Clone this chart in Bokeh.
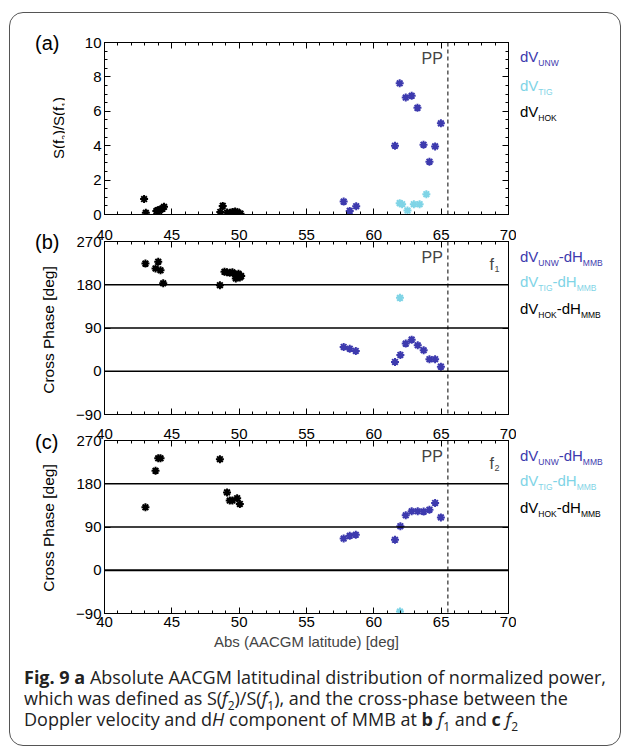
from bokeh.plotting import figure
from bokeh.models import Span, Label, LinearAxis, Range1d, Div, FixedTicker
from bokeh.layouts import column, row
from bokeh.embed import file_html
from bokeh.resources import INLINE

# ---------------- data ----------------
# panel (a): normalized power S(f2)/S(f1)
hok_a_lat = [42.94, 43.07, 43.85, 43.95, 44.05, 44.15, 44.3, 44.42, 48.6, 48.78, 49.1, 49.3, 49.5, 49.7, 49.9, 50.1]
hok_a_val = [0.9, 0.1, 0.2, 0.25, 0.2, 0.3, 0.33, 0.45, 0.15, 0.5, 0.12, 0.1, 0.15, 0.18, 0.12, 0.05]
unw_a_lat = [57.76, 58.21, 58.69, 61.57, 61.92, 62.37, 62.81, 63.24, 63.69, 64.13, 64.55, 64.98]
unw_a_val = [0.75, 0.21, 0.48, 4.0, 7.63, 6.8, 6.9, 6.2, 4.06, 3.07, 3.96, 5.3]
tig_a_lat = [61.92, 62.1, 62.5, 62.97, 63.4, 63.9]
tig_a_val = [0.66, 0.6, 0.23, 0.6, 0.6, 1.18]

# panel (b): cross phase at f1 [deg]
hok_b_lat = [43.04, 43.79, 43.99, 44.16, 44.36, 48.57, 48.91, 49.1, 49.3, 49.5, 49.7, 49.75, 49.95, 50.05, 50.15]
hok_b_val = [224, 214, 228, 210, 183, 179, 207, 206, 205, 206, 202, 193, 203, 195, 198]
unw_b_lat = [57.76, 58.21, 58.66, 61.57, 61.97, 62.37, 62.81, 63.26, 63.7, 64.13, 64.55, 64.98]
unw_b_val = [50.6, 47, 42.3, 19.4, 34, 57.5, 65.8, 54, 43.7, 25, 25, 9.6]
tig_b_lat = [61.94]
tig_b_val = [152.7]

# panel (c): cross phase at f2 [deg]
hok_c_lat = [43.04, 43.79, 43.99, 44.16, 48.57, 49.1, 49.3, 49.5, 49.85, 50.05]
hok_c_val = [131, 207, 233, 233, 231, 162, 145, 145, 150, 138]
unw_c_lat = [57.76, 58.21, 58.66, 61.57, 61.97, 62.37, 62.81, 63.26, 63.7, 64.13, 64.55, 64.98]
unw_c_val = [66, 71.7, 73.8, 63.4, 91.7, 114.4, 122.7, 122.7, 122, 126, 140, 110]
tig_c_lat = [61.94]
tig_c_val = [-86]

x_ticks = [40, 45, 50, 55, 60, 65, 70]
pp_lat = 65.5

BLUE = "#3d3aae"
CYAN = "#7fd4e6"
BLACK = "#000000"
FONT = "Liberation Sans"

X0, X1 = 40, 70
FIG_LEFT, FRAME_W, FIG_RIGHT = 40, 404, 8
FIG_W = FIG_LEFT + FRAME_W + FIG_RIGHT
ORIGIN_X, ORIGIN_Y = 10, 13          # inside the rounded box
LEFT_W = 104 - FIG_LEFT - ORIGIN_X   # left text column
RIGHT_W = 610 - LEFT_W - FIG_W       # right legend column
RIGHT_X0 = ORIGIN_X + LEFT_W + FIG_W


def make_panel(yr, yticks, yminor, top, frame_h, bottom, fsub, hlines, series,
               top_labels=False, bottom_labels=False, xlabel=None, zero_w=1.5):
    y0, y1 = yr
    p = figure(width=FIG_W, height=top + frame_h + bottom,
               x_range=Range1d(X0, X1), y_range=Range1d(y0, y1),
               output_backend="svg", toolbar_location=None,
               min_border_left=FIG_LEFT, min_border_right=FIG_RIGHT,
               min_border_top=top, min_border_bottom=bottom,
               background_fill_color="white", border_fill_color="white",
               outline_line_color="black", outline_line_width=1)
    p.grid.visible = False
    xt = FixedTicker(ticks=x_ticks, minor_ticks=list(range(40, 71)))
    yt = FixedTicker(ticks=yticks, minor_ticks=yminor)
    below = p.below[0]
    left = p.left[0]
    below.ticker = xt
    left.ticker = yt
    above = LinearAxis(ticker=xt)
    right = LinearAxis(ticker=yt)
    p.add_layout(above, "above")
    p.add_layout(right, "right")
    for ax in (below, left, above, right):
        ax.major_tick_in = 6
        ax.major_tick_out = 0
        ax.minor_tick_in = 3
        ax.minor_tick_out = 0
        ax.axis_line_color = "black"
        ax.major_label_text_font = FONT
        ax.major_label_text_font_size = "15px"
        ax.major_label_text_color = "black"
        ax.major_label_standoff = 3
        ax.axis_label_text_font = FONT
        ax.axis_label_text_font_style = "normal"
        ax.axis_label_text_font_size = "15px"
    hidden = [(right, yticks)]
    if not top_labels:
        hidden.append((above, x_ticks))
    if not bottom_labels:
        hidden.append((below, x_ticks))
    for ax, tks in hidden:
        ax.major_label_text_font_size = "0px"
        ax.major_label_standoff = 0
        ax.major_label_overrides = {t: "" for t in tks}
    above.major_label_standoff = 2
    if xlabel:
        below.axis_label = xlabel
        below.axis_label_standoff = 3

    for v in hlines:
        p.add_layout(Span(location=v, dimension="width", line_color="black",
                          line_width=zero_w if v == 0 else 1.5))
    p.add_layout(Span(location=pp_lat, dimension="height", line_color="black",
                      line_width=1, line_dash="4 3"))

    for xs, ys, col in series:
        p.scatter(xs, ys, marker="asterisk", size=8, line_width=2, line_color=col)

    def ydata(dy):
        return y1 - dy / frame_h * (y1 - y0)

    p.add_layout(Label(x=pp_lat, y=ydata(16), x_offset=-5, text="PP", text_font=FONT,
                       text_font_size="16px", text_align="right", text_baseline="middle"))
    if fsub:
        p.add_layout(Label(x=X1, y=ydata(23), x_offset=-19, text="f", text_font=FONT,
                           text_font_size="16px", text_align="left", text_baseline="alphabetic"))
        p.add_layout(Label(x=X1, y=ydata(23), x_offset=-14, y_offset=-4, text=fsub, text_font=FONT,
                           text_font_size="9px", text_align="left", text_baseline="alphabetic"))
    return p


# panel frames (page y): a 42-214, b 241-414, c 440-613
pa = make_panel((0, 10), [0, 2, 4, 6, 8, 10], [i * 0.5 for i in range(21)],
                29, 172, 8, None, [],
                [(hok_a_lat, hok_a_val, BLACK), (unw_a_lat, unw_a_val, BLUE), (tig_a_lat, tig_a_val, CYAN)])
pb = make_panel((-90, 270), [-90, 0, 90, 180, 270], [],
                19, 173, 8, "1", [0, 90, 180],
                [(hok_b_lat, hok_b_val, BLACK), (unw_b_lat, unw_b_val, BLUE), (tig_b_lat, tig_b_val, CYAN)],
                top_labels=True)
pc = make_panel((-90, 270), [-90, 0, 90, 180, 270], [],
                18, 173, 46, "2", [0, 90, 180],
                [(hok_c_lat, hok_c_val, BLACK), (unw_c_lat, unw_c_val, BLUE), (tig_c_lat, tig_c_val, CYAN)],
                top_labels=True, bottom_labels=True, xlabel="Abs (AACGM latitude) [deg]", zero_w=2)

TOTAL_H = pa.height + pb.height + pc.height


def abs_text(x, y, html, size, x0, rotate=False, color="black"):
    """x, y in page pixels (centre-left, or centre when rotated)."""
    x -= x0
    y -= ORIGIN_Y
    tr = "translate(-50%,-50%) rotate(-90deg)" if rotate else "translate(0,-50%)"
    return (f"<div style='position:absolute;left:{x}px;top:{y}px;transform:{tr};white-space:nowrap;"
            f"font-family:\"{FONT}\";font-size:{size}px;color:{color};line-height:1'>{html}</div>")


SUB = "<span style='font-size:8.5px;vertical-align:-4px'>{}</span>"
left_html = "".join([
    abs_text(35, 43, "(a)", 20, ORIGIN_X),
    abs_text(35, 242, "(b)", 20, ORIGIN_X),
    abs_text(35, 442, "(c)", 20, ORIGIN_X),
    abs_text(60, 128, "S(f" + SUB.format("2") + ")/S(f" + SUB.format("1") + ")", 15, ORIGIN_X, True),
    abs_text(49, 330, "Cross Phase [deg]", 15.5, ORIGIN_X, True),
    abs_text(49, 528, "Cross Phase [deg]", 15.5, ORIGIN_X, True),
])
left_div = Div(text=f"<div style='position:relative;width:{LEFT_W}px;height:{TOTAL_H}px'>{left_html}</div>",
               width=LEFT_W, height=TOTAL_H, margin=0)


def leg(stn, with_mmb):
    s = "dV" + SUB.format(stn)
    if with_mmb:
        s += "-dH" + SUB.format("MMB")
    return s


stations = [("UNW", BLUE), ("TIG", CYAN), ("HOK", BLACK)]
right_html = ""
for (stn, col), y in zip(stations, (58, 87, 113)):
    right_html += abs_text(520, y, leg(stn, False), 15, RIGHT_X0, color=col)
for base in (258, 457):
    for (stn, col), dy in zip(stations, (0, 25, 52)):
        right_html += abs_text(520, base + dy, leg(stn, True), 15, RIGHT_X0, color=col)
right_div = Div(text=f"<div style='position:relative;width:{RIGHT_W}px;height:{TOTAL_H}px'>{right_html}</div>",
                width=RIGHT_W, height=TOTAL_H, margin=0)

plots = row(left_div, column(pa, pb, pc, spacing=0), right_div, spacing=0)

CAP_H = 745 - ORIGIN_Y - TOTAL_H
cap = Div(text=("<div style='font-family:\"Open Sans\";font-size:18px;line-height:21px;color:#222;"
                "padding:8px 0 0 14px;white-space:nowrap'>"
                "<b>Fig. 9 a</b> Absolute AACGM latitudinal distribution of normalized power,<br>"
                "which was defined as S(<i>f</i><sub style='font-size:12px;line-height:0'>2</sub>)/S(<i>f</i>"
                "<sub style='font-size:12px;line-height:0'>1</sub>), and the cross-phase between the<br>"
                "Doppler velocity and d<i>H</i> component of MMB at <b>b</b> "
                "<i>f</i><sub style='font-size:12px;line-height:0'>1</sub> and <b>c</b> <i>f</i>"
                "<sub style='font-size:12px;line-height:0'>2</sub></div>"),
          width=LEFT_W + FIG_W + RIGHT_W, height=CAP_H, margin=0)

layout = column(plots, cap, spacing=0,
                styles={"margin-left": "9px", "margin-top": "12px", "border": "1px solid #555",
                        "border-radius": "14px"})

open("out.html", "w").write(file_html(layout, INLINE))
